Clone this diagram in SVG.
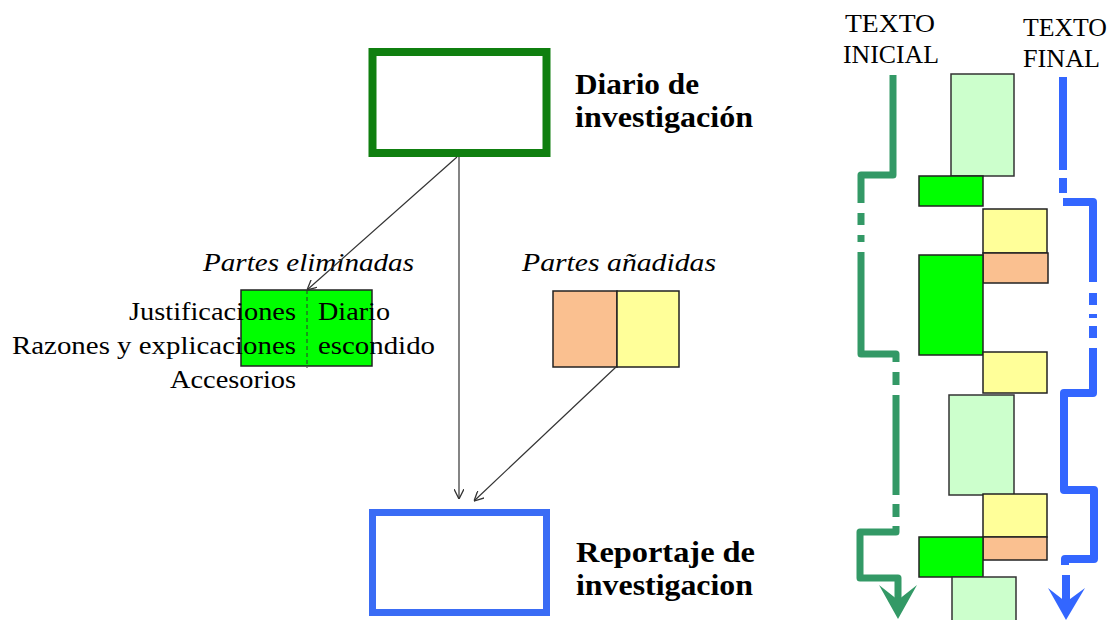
<svg xmlns="http://www.w3.org/2000/svg" width="1107" height="620" viewBox="0 0 1107 620">
<defs>
<style>
text{font-family:'Liberation Serif','Times New Roman',serif;fill:#000}
.bold{font-size:30px;font-weight:bold}
.it{font-size:25px;font-style:italic}
.reg{font-size:25px}
.cap{font-size:25px}
.conn{fill:none;stroke:#333;stroke-width:1.2}
.gpath{fill:none;stroke:#339966;stroke-width:7;stroke-linejoin:round}
.bpath{fill:none;stroke:#3366ff;stroke-width:8;stroke-linejoin:round}
.lg{fill:#ccffcc;stroke:#333;stroke-width:1.5}
.g{fill:#00ff00;stroke:#222;stroke-width:1.5}
.y{fill:#ffff99;stroke:#222;stroke-width:1.5}
.o{fill:#fac090;stroke:#222;stroke-width:1.5}
</style>
<marker id="arr" viewBox="0 0 10 10" refX="10" refY="5" markerWidth="10" markerHeight="10" markerUnits="userSpaceOnUse" orient="auto">
<path d="M0,0 L10,5 L0,10" fill="none" stroke="#333" stroke-width="1.3"/>
</marker>
</defs>
<rect width="1107" height="620" fill="#fff"/>

<g id="diario">
<rect x="372.5" y="52" width="174" height="101" fill="#fff" stroke="#0f7f0f" stroke-width="8"/>
<text class="bold" x="575" y="94" textLength="124" lengthAdjust="spacingAndGlyphs">Diario de</text>
<text class="bold" x="575" y="127" textLength="178" lengthAdjust="spacingAndGlyphs">investigación</text>
</g>

<g id="reportaje">
<rect x="372.5" y="512.5" width="174" height="100" fill="#fff" stroke="#3a6cf5" stroke-width="7"/>
<text class="bold" x="576" y="562" textLength="179" lengthAdjust="spacingAndGlyphs">Reportaje de</text>
<text class="bold" x="576" y="595" textLength="177" lengthAdjust="spacingAndGlyphs">investigacion</text>
</g>

<g id="eliminadas">
<rect class="g" x="241" y="290" width="131" height="76"/>
<line x1="307" y1="290" x2="307" y2="368" stroke="#333" stroke-width="1" stroke-dasharray="4,3"/>
<text class="it" x="203" y="271" textLength="211" lengthAdjust="spacingAndGlyphs">Partes eliminadas</text>
<text class="reg" x="129" y="320" textLength="167" lengthAdjust="spacingAndGlyphs">Justificaciones</text>
<text class="reg" x="12" y="354" textLength="284" lengthAdjust="spacingAndGlyphs">Razones y explicaciones</text>
<text class="reg" x="170" y="388" textLength="126" lengthAdjust="spacingAndGlyphs">Accesorios</text>
<text class="reg" x="318" y="320" textLength="72" lengthAdjust="spacingAndGlyphs">Diario</text>
<text class="reg" x="318" y="354" textLength="117" lengthAdjust="spacingAndGlyphs">escondido</text>
</g>

<g id="anadidas">
<rect class="o" x="553" y="291" width="64" height="76"/>
<rect class="y" x="617" y="291" width="62" height="76"/>
<text class="it" x="522" y="271" textLength="194" lengthAdjust="spacingAndGlyphs">Partes añadidas</text>
</g>

<g id="connectors">
<line class="conn" x1="457" y1="157" x2="307" y2="290" marker-end="url(#arr)"/>
<line class="conn" x1="459" y1="157" x2="459" y2="499" marker-end="url(#arr)"/>
<line class="conn" x1="616" y1="367" x2="474" y2="501" marker-end="url(#arr)"/>
</g>

<g id="texto-inicial">
<text class="cap" x="845" y="32" textLength="90" lengthAdjust="spacingAndGlyphs">TEXTO</text>
<text class="cap" x="843" y="63" textLength="96" lengthAdjust="spacingAndGlyphs">INICIAL</text>
<path class="gpath" d="M893,75 V175 H861 V203"/>
<path class="gpath" d="M861,213 V225 M861,235 V242"/>
<path class="gpath" d="M861,252 V354 H896 V362"/>
<path class="gpath" d="M896,372 V385"/>
<path class="gpath" d="M896,395 V495"/>
<path class="gpath" d="M896,504 V517"/>
<path class="gpath" d="M896,526 V532 H860 V578 H898 V603"/>
<polygon points="879,585 898,600 917,585 898,619" fill="#339966"/>
</g>

<g id="texto-final">
<text class="cap" x="1023" y="36" textLength="84" lengthAdjust="spacingAndGlyphs">TEXTO</text>
<text class="cap" x="1023" y="67" textLength="77" lengthAdjust="spacingAndGlyphs">FINAL</text>
<path class="bpath" d="M1063,77 V170"/>
<path class="bpath" d="M1063,178 V193"/>
<path class="bpath" d="M1063,202 H1093 V282"/>
<path class="bpath" d="M1093,293 V305 M1093,314 V318 M1093,326 V338"/>
<path class="bpath" d="M1093,348 V393 H1064 V490 H1094 V559 H1065 V565"/>
<path class="bpath" d="M1066,575 V605"/>
<polygon points="1048,588 1066,602 1085,588 1066,620" fill="#3366ff"/>
</g>

<g id="bloques">
<rect class="lg" x="951" y="74" width="63" height="102"/>
<rect class="g" x="919" y="176" width="64" height="30"/>
<rect class="y" x="983" y="209" width="64" height="44"/>
<rect class="o" x="983" y="253" width="65" height="30"/>
<rect class="g" x="919" y="255" width="64" height="100"/>
<rect class="y" x="983" y="352" width="64" height="41"/>
<rect class="lg" x="949" y="395" width="65" height="100"/>
<rect class="y" x="983" y="494" width="64" height="43"/>
<rect class="o" x="983" y="537" width="64" height="23"/>
<rect class="g" x="919" y="537" width="64" height="40"/>
<rect class="lg" x="952" y="577" width="64" height="50"/>
</g>
</svg>
